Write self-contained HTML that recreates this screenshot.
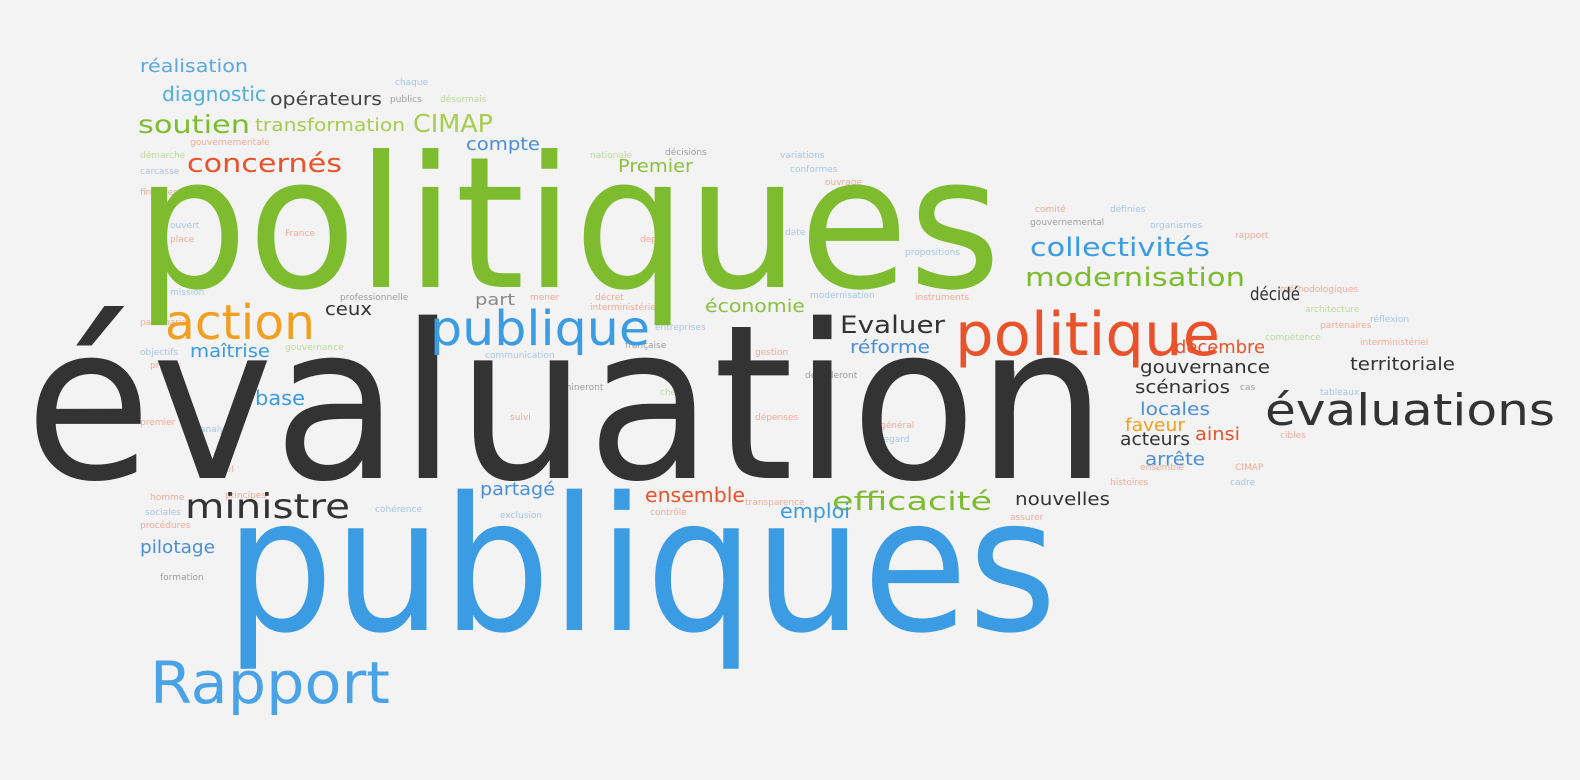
<!DOCTYPE html>
<html><head><meta charset="utf-8">
<style>
html,body{margin:0;padding:0;background:#f3f3f3;}
svg{display:block;}
text{font-family:"DejaVu Sans","Liberation Sans",sans-serif;}
</style></head>
<body>
<svg width="1580" height="780" viewBox="0 0 1580 780">
<rect width="1580" height="780" fill="#f3f3f3"/>
<g opacity="0.45" font-size="9">
<text x="395" y="85" fill="#4a8fd8">chaque</text>
<text x="390" y="102" fill="#333">publics</text>
<text x="440" y="102" fill="#7cbc2e">désormais</text>
<text x="190" y="145" fill="#e8532b">gouvernementale</text>
<text x="140" y="158" fill="#7cbc2e">démarche</text>
<text x="140" y="174" fill="#4a8fd8">carcasse</text>
<text x="590" y="158" fill="#7cbc2e">nationale</text>
<text x="665" y="155" fill="#333">décisions</text>
<text x="780" y="158" fill="#4a8fd8">variations</text>
<text x="790" y="172" fill="#4a8fd8">conformes</text>
<text x="825" y="185" fill="#e8532b">ouvrage</text>
<text x="1035" y="212" fill="#e8532b">comité</text>
<text x="1030" y="225" fill="#333">gouvernemental</text>
<text x="1110" y="212" fill="#4a8fd8">définies</text>
<text x="1150" y="228" fill="#4a8fd8">organismes</text>
<text x="1235" y="238" fill="#e8532b">rapport</text>
<text x="1280" y="292" fill="#e8532b">méthodologiques</text>
<text x="1305" y="312" fill="#7cbc2e">architecture</text>
<text x="1320" y="328" fill="#e8532b">partenaires</text>
<text x="1370" y="322" fill="#4a8fd8">réflexion</text>
<text x="1265" y="340" fill="#7cbc2e">compétence</text>
<text x="1360" y="345" fill="#e8532b">interministériel</text>
<text x="1240" y="390" fill="#333">cas</text>
<text x="1320" y="395" fill="#4a8fd8">tableaux</text>
<text x="1280" y="438" fill="#e8532b">cibles</text>
<text x="140" y="195" fill="#e8532b">finances</text>
<text x="170" y="228" fill="#4a8fd8">ouvert</text>
<text x="170" y="242" fill="#e8532b">place</text>
<text x="285" y="236" fill="#e8532b">France</text>
<text x="640" y="242" fill="#e8532b">depuis</text>
<text x="785" y="235" fill="#4a8fd8">date</text>
<text x="905" y="255" fill="#4a8fd8">propositions</text>
<text x="170" y="295" fill="#4a8fd8">mission</text>
<text x="340" y="300" fill="#333">professionnelle</text>
<text x="530" y="300" fill="#e8532b">mener</text>
<text x="595" y="300" fill="#e8532b">décret</text>
<text x="590" y="310" fill="#e8532b">interministériel</text>
<text x="810" y="298" fill="#4a8fd8">modernisation</text>
<text x="915" y="300" fill="#e8532b">instruments</text>
<text x="140" y="325" fill="#e8532b">partenariat</text>
<text x="140" y="355" fill="#4a8fd8">objectifs</text>
<text x="150" y="368" fill="#e8532b">projets</text>
<text x="285" y="350" fill="#7cbc2e">gouvernance</text>
<text x="655" y="330" fill="#4a8fd8">entreprises</text>
<text x="625" y="348" fill="#333">française</text>
<text x="485" y="358" fill="#4a8fd8">communication</text>
<text x="755" y="355" fill="#e8532b">gestion</text>
<text x="805" y="378" fill="#333">dérouleront</text>
<text x="1010" y="378" fill="#333">dont</text>
<text x="550" y="390" fill="#333">termineront</text>
<text x="660" y="395" fill="#7cbc2e">chef</text>
<text x="510" y="420" fill="#e8532b">suivi</text>
<text x="140" y="425" fill="#e8532b">premier</text>
<text x="200" y="432" fill="#4a8fd8">analyse</text>
<text x="755" y="420" fill="#e8532b">dépenses</text>
<text x="880" y="428" fill="#e8532b">général</text>
<text x="880" y="442" fill="#4a8fd8">regard</text>
<text x="1140" y="470" fill="#e8532b">ensemble</text>
<text x="1235" y="470" fill="#e8532b">CIMAP</text>
<text x="1110" y="485" fill="#e8532b">histoires</text>
<text x="1230" y="485" fill="#4a8fd8">cadre</text>
<text x="205" y="472" fill="#e8532b">travail</text>
<text x="150" y="500" fill="#e8532b">homme</text>
<text x="225" y="498" fill="#e8532b">principes</text>
<text x="145" y="515" fill="#4a8fd8">sociales</text>
<text x="140" y="528" fill="#e8532b">procédures</text>
<text x="375" y="512" fill="#4a8fd8">cohérence</text>
<text x="500" y="518" fill="#4a8fd8">exclusion</text>
<text x="650" y="515" fill="#e8532b">contrôle</text>
<text x="745" y="505" fill="#e8532b">transparence</text>
<text x="1010" y="520" fill="#e8532b">assurer</text>
<text x="160" y="580" fill="#333">formation</text>
</g>

<text x="135" y="287" font-size="183" fill="#7cbc2e" textLength="866" lengthAdjust="spacingAndGlyphs">politiques</text>
<text x="25" y="478" font-size="215" fill="#333333" textLength="1082" lengthAdjust="spacingAndGlyphs">évaluation</text>
<text x="225" y="630" font-size="186" fill="#3b9be3" textLength="832" lengthAdjust="spacingAndGlyphs">publiques</text>
<text x="150" y="703" font-size="58" fill="#4aa3e6" textLength="240" lengthAdjust="spacingAndGlyphs">Rapport</text>
<text x="955" y="355" font-size="60" fill="#e8532b" textLength="265" lengthAdjust="spacingAndGlyphs">politique</text>
<text x="1265" y="425" font-size="44" fill="#333333" textLength="290" lengthAdjust="spacingAndGlyphs">évaluations</text>
<text x="430" y="345" font-size="48" fill="#3b9be3" textLength="220" lengthAdjust="spacingAndGlyphs">publique</text>
<text x="165" y="339" font-size="48" fill="#f0a020" textLength="150" lengthAdjust="spacingAndGlyphs">action</text>
<text x="185" y="518" font-size="34" fill="#333333" textLength="165" lengthAdjust="spacingAndGlyphs">ministre</text>

<g>
<text x="140" y="72" font-size="18" fill="#5aa8e0" textLength="108" lengthAdjust="spacingAndGlyphs">réalisation</text>
<text x="162" y="101" font-size="20" fill="#4fb0dc" textLength="104" lengthAdjust="spacingAndGlyphs">diagnostic</text>
<text x="270" y="105" font-size="18" fill="#444" textLength="112" lengthAdjust="spacingAndGlyphs">opérateurs</text>
<text x="138" y="133" font-size="25" fill="#7cbc2e" textLength="112" lengthAdjust="spacingAndGlyphs">soutien</text>
<text x="255" y="131" font-size="18" fill="#a6cc50" textLength="150" lengthAdjust="spacingAndGlyphs">transformation</text>
<text x="413" y="132" font-size="25" fill="#a6cc50" textLength="80" lengthAdjust="spacingAndGlyphs">CIMAP</text>
<text x="466" y="150" font-size="18" fill="#4a8fd8" textLength="74" lengthAdjust="spacingAndGlyphs">compte</text>
<text x="187" y="172" font-size="26" fill="#e8532b" textLength="155" lengthAdjust="spacingAndGlyphs">concernés</text>
<text x="618" y="172" font-size="18" fill="#8cc040" textLength="75" lengthAdjust="spacingAndGlyphs">Premier</text>
<text x="1030" y="256" font-size="26" fill="#3b9be3" textLength="180" lengthAdjust="spacingAndGlyphs">collectivités</text>
<text x="1025" y="286" font-size="26" fill="#7cbc2e" textLength="220" lengthAdjust="spacingAndGlyphs">modernisation</text>
<text x="1250" y="300" font-size="18" fill="#333" textLength="50" lengthAdjust="spacingAndGlyphs">décidé</text>
<text x="705" y="312" font-size="18" fill="#8cc040" textLength="100" lengthAdjust="spacingAndGlyphs">économie</text>
<text x="475" y="305" font-size="16" fill="#888" textLength="40" lengthAdjust="spacingAndGlyphs">part</text>
<text x="325" y="315" font-size="18" fill="#333" textLength="47" lengthAdjust="spacingAndGlyphs">ceux</text>
<text x="190" y="357" font-size="18" fill="#3b9be3" textLength="80" lengthAdjust="spacingAndGlyphs">maîtrise</text>
<text x="840" y="333" font-size="24" fill="#333" textLength="105" lengthAdjust="spacingAndGlyphs">Evaluer</text>
<text x="850" y="353" font-size="18" fill="#4a8fd8" textLength="80" lengthAdjust="spacingAndGlyphs">réforme</text>
<text x="1175" y="353" font-size="18" fill="#e8532b" textLength="90" lengthAdjust="spacingAndGlyphs">décembre</text>
<text x="1140" y="373" font-size="18" fill="#333" textLength="130" lengthAdjust="spacingAndGlyphs">gouvernance</text>
<text x="1350" y="370" font-size="18" fill="#333" textLength="105" lengthAdjust="spacingAndGlyphs">territoriale</text>
<text x="1135" y="393" font-size="18" fill="#333" textLength="95" lengthAdjust="spacingAndGlyphs">scénarios</text>
<text x="255" y="405" font-size="20" fill="#3b9be3" textLength="50" lengthAdjust="spacingAndGlyphs">base</text>
<text x="1140" y="415" font-size="18" fill="#4a8fd8" textLength="70" lengthAdjust="spacingAndGlyphs">locales</text>
<text x="1125" y="431" font-size="18" fill="#f0a020" textLength="60" lengthAdjust="spacingAndGlyphs">faveur</text>
<text x="1195" y="440" font-size="18" fill="#e8532b" textLength="45" lengthAdjust="spacingAndGlyphs">ainsi</text>
<text x="1120" y="445" font-size="18" fill="#333" textLength="70" lengthAdjust="spacingAndGlyphs">acteurs</text>
<text x="1145" y="465" font-size="18" fill="#4a8fd8" textLength="60" lengthAdjust="spacingAndGlyphs">arrête</text>
<text x="480" y="495" font-size="18" fill="#4a8fd8" textLength="75" lengthAdjust="spacingAndGlyphs">partagé</text>
<text x="645" y="502" font-size="20" fill="#e8532b" textLength="100" lengthAdjust="spacingAndGlyphs">ensemble</text>
<text x="832" y="510" font-size="26" fill="#7cbc2e" textLength="160" lengthAdjust="spacingAndGlyphs">efficacité</text>
<text x="1015" y="505" font-size="18" fill="#333" textLength="95" lengthAdjust="spacingAndGlyphs">nouvelles</text>
<text x="780" y="518" font-size="20" fill="#3b9be3" textLength="70" lengthAdjust="spacingAndGlyphs">emploi</text>
<text x="140" y="553" font-size="18" fill="#4a8fd8" textLength="75" lengthAdjust="spacingAndGlyphs">pilotage</text>
</g>
</svg>
</body></html>
